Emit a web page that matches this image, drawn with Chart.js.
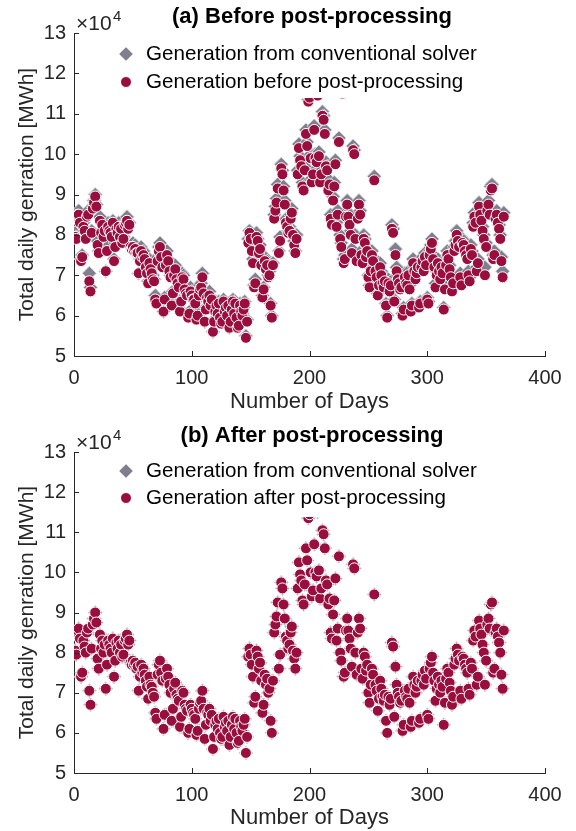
<!DOCTYPE html>
<html>
<head>
<meta charset="utf-8">
<script src="https://cdn.jsdelivr.net/npm/chart.js@4.4.1/dist/chart.umd.min.js"></script>
<style>
  html, body { margin: 0; padding: 0; background: #fff; }
  #wrap { position: relative; width: 576px; height: 831px; }
  canvas { position: absolute; left: 0; }
</style>
</head>
<body>
<div id="wrap">
  <canvas id="chartA" width="576" height="415" style="top:0"></canvas>
  <canvas id="chartB" width="576" height="416" style="top:415px"></canvas>
</div>
<script>
// daily generation, x10^4 MWh, one row per week
const conventional = [
  8.05, 7.95, 8.55, 8.6, 8.35, 7.4, 7.5,
  8.3, 8.15, 8.0, 8.5, 8.6, 7.05, 6.7,
  8.1, 8.7, 8.85, 9.0, 8.75, 7.85, 7.6,
  8.45, 8.1, 8.3, 8.0, 8.2, 7.1, 7.7,
  8.3, 8.2, 8.1, 8.0, 8.35, 7.4, 7.8,
  8.25, 8.1, 8.3, 8.0, 8.2, 7.9, 7.95,
  8.3, 8.35, 8.45, 8.2, 8.3, 7.75, 7.7,
  7.8, 7.7, 7.75, 7.6, 7.65, 7.05, 7.4,
  7.7, 7.5, 7.6, 7.45, 7.3, 7.15, 6.85,
  7.4, 7.2, 7.15, 7.0, 6.9, 6.5, 6.35,
  7.45, 7.7, 7.8, 7.5, 7.3, 6.1, 6.45,
  7.35, 7.6, 7.4, 7.2, 7.0, 6.3, 6.6,
  7.1, 7.25, 6.95, 6.85, 6.8, 6.15, 6.4,
  7.05, 7.0, 6.7, 6.6, 6.55, 6.0, 6.1,
  6.7, 6.6, 6.5, 6.45, 6.35, 5.95, 6.05,
  6.6, 6.75, 6.8, 7.05, 6.6, 5.85, 6.2,
  6.5, 6.45, 6.6, 6.3, 6.45, 5.6, 5.9,
  6.2, 6.3, 6.1, 6.35, 6.0, 5.85, 5.9,
  6.4, 6.15, 6.25, 6.05, 6.3, 5.7, 5.9,
  6.2, 6.4, 6.1, 6.35, 6.0, 5.75, 5.8,
  6.3, 6.15, 6.05, 6.2, 6.35, 5.5, 5.9,
  7.9, 8.1, 7.95, 7.7, 7.4, 6.75, 6.9,
  8.05, 7.9, 7.6, 7.75, 7.3, 6.5, 6.7,
  7.45, 7.2, 7.35, 7.0, 7.1, 6.3, 6.0,
  7.3, 8.5, 8.7, 8.9, 9.25, 7.6, 7.95,
  9.75, 9.6, 9.2, 8.85, 8.4, 8.3, 8.1,
  8.2, 8.5, 8.65, 8.05, 7.85, 7.6, 8.0,
  9.6, 10.25, 9.95, 9.8, 9.3, 9.2, 9.7,
  10.6, 10.3, 11.35, 11.45, 10.0, 9.4, 9.55,
  10.7, 10.0, 9.9, 11.5, 10.05, 9.35, 9.6,
  11.05, 10.95, 10.6, 9.8, 9.7, 9.2, 9.35,
  8.5, 8.35, 8.95, 9.3, 9.85, 8.3, 8.6,
  10.4, 8.0, 7.8, 11.6, 7.4, 7.5, 8.55,
  8.85, 8.55, 8.35, 8.1, 7.65, 10.2, 10.1,
  8.0, 7.45, 8.5, 8.85, 8.6, 7.6, 7.35,
  8.0, 7.9, 7.55, 7.7, 7.0, 6.75, 7.2,
  7.6, 7.45, 9.45, 7.2, 7.05, 6.55, 6.85,
  7.3, 7.1, 6.9, 6.8, 6.95, 6.3, 6.0,
  6.9, 6.7, 6.85, 8.25, 8.15, 6.4, 7.65,
  7.2, 7.0, 6.9, 6.75, 6.8, 6.05, 6.2,
  7.05, 6.9, 6.85, 7.1, 6.75, 6.15, 6.3,
  7.4, 7.2, 7.0, 7.15, 7.3, 6.25, 6.35,
  7.3, 7.45, 7.2, 7.55, 7.35, 6.45, 6.35,
  7.6, 7.75, 7.9, 7.5, 7.3, 6.8, 7.1,
  7.4, 7.2, 7.0, 7.3, 7.15, 6.2, 6.75,
  7.35, 7.6, 7.5, 7.25, 7.05, 6.7, 6.9,
  7.7, 7.85, 8.1, 7.95, 7.8, 7.05, 6.85,
  7.9, 7.85, 7.7, 7.6, 7.5, 7.1, 6.95,
  7.75, 7.6, 8.3, 8.55, 8.4, 7.2, 7.4,
  8.8, 8.6, 8.45, 8.2, 8.0, 7.2, 7.8,
  8.7, 8.85, 8.6, 9.2, 9.25, 7.5, 7.6,
  8.5, 8.6, 8.4, 8.25, 8.0, 7.45, 7.1,
  8.55
];

const beforePost = [
  7.95, 7.9, 8.5, 8.5, 8.3, 7.35, 7.45,
  8.2, 8.1, 7.9, 8.45, 8.5, 6.85, 6.6,
  8.05, 8.65, 8.8, 8.95, 8.7, 7.75, 7.55,
  8.35, 8.05, 8.25, 7.95, 8.1, 7.1, 7.6,
  8.2, 8.1, 8.05, 7.95, 8.3, 7.35, 7.7,
  8.15, 8.05, 8.2, 7.95, 8.15, 7.8, 7.9,
  8.25, 8.3, 8.35, 8.15, 8.25, 7.7, 7.65,
  7.7, 7.6, 7.65, 7.55, 7.55, 7.05, 7.35,
  7.6, 7.45, 7.5, 7.4, 7.2, 7.05, 6.8,
  7.3, 7.15, 7.05, 6.9, 6.85, 6.4, 6.3,
  7.35, 7.6, 7.7, 7.45, 7.2, 6.1, 6.4,
  7.25, 7.5, 7.35, 7.1, 6.95, 6.25, 6.55,
  7.0, 7.15, 6.9, 6.8, 6.7, 6.1, 6.35,
  6.95, 6.9, 6.65, 6.55, 6.5, 5.95, 6.05,
  6.6, 6.5, 6.4, 6.4, 6.3, 5.9, 6.0,
  6.5, 6.65, 6.7, 6.95, 6.55, 5.85, 6.15,
  6.45, 6.35, 6.5, 6.25, 6.4, 5.6, 5.85,
  6.1, 6.25, 6.05, 6.3, 5.95, 5.8, 5.85,
  6.35, 6.1, 6.2, 6.0, 6.25, 5.7, 5.85,
  6.15, 6.35, 6.05, 6.3, 5.95, 5.7, 5.75,
  6.25, 6.1, 6.0, 6.15, 6.3, 5.45, 5.85,
  7.8, 8.05, 7.9, 7.6, 7.3, 6.7, 6.8,
  7.95, 7.85, 7.55, 7.65, 7.25, 6.45, 6.65,
  7.35, 7.15, 7.25, 6.95, 7.0, 6.25, 5.95,
  7.25, 8.4, 8.6, 8.8, 9.15, 7.55, 7.85,
  9.65, 9.5, 9.1, 8.75, 8.3, 8.2, 8.05,
  8.1, 8.4, 8.55, 8.0, 7.75, 7.55, 7.9,
  9.5, 10.15, 9.85, 9.7, 9.2, 9.1, 9.6,
  10.5, 10.2, 11.3, 11.4, 9.9, 9.3, 9.5,
  10.6, 9.9, 9.8, 11.45, 9.95, 9.3, 9.5,
  10.95, 10.85, 10.5, 9.7, 9.6, 9.1, 9.25,
  8.4, 8.25, 8.85, 9.2, 9.75, 8.2, 8.5,
  10.3, 7.9, 7.7, 11.5, 7.3, 7.4, 8.45,
  8.75, 8.45, 8.25, 8.0, 7.55, 10.1, 10.0,
  7.9, 7.35, 8.4, 8.75, 8.5, 7.5, 7.3,
  7.9, 7.8, 7.45, 7.6, 6.95, 6.7, 7.1,
  7.5, 7.35, 9.35, 7.1, 6.95, 6.5, 6.75,
  7.2, 7.0, 6.8, 6.7, 6.85, 6.25, 5.95,
  6.8, 6.6, 6.75, 8.15, 8.05, 6.35, 7.5,
  7.1, 6.9, 6.8, 6.65, 6.7, 6.0, 6.15,
  6.95, 6.8, 6.75, 7.0, 6.65, 6.1, 6.25,
  7.3, 7.1, 6.9, 7.05, 7.2, 6.2, 6.3,
  7.2, 7.35, 7.1, 7.45, 7.25, 6.4, 6.3,
  7.5, 7.65, 7.8, 7.4, 7.2, 6.7, 7.0,
  7.3, 7.1, 6.9, 7.2, 7.05, 6.15, 6.65,
  7.25, 7.5, 7.4, 7.15, 6.95, 6.6, 6.8,
  7.6, 7.75, 8.0, 7.85, 7.7, 6.95, 6.75,
  7.8, 7.75, 7.6, 7.5, 7.4, 7.0, 6.85,
  7.65, 7.5, 8.2, 8.45, 8.3, 7.1, 7.3,
  8.7, 8.5, 8.35, 8.1, 7.9, 7.0, 7.7,
  8.6, 8.75, 8.5, 9.1, 9.15, 7.4, 7.5,
  8.4, 8.5, 8.3, 8.15, 7.9, 7.35, 6.95,
  8.45
];

// after post-processing the circles sit exactly on the solver diamonds
const afterPost = conventional;

const xTicks = [0, 100, 200, 300, 400];
const yTicks = [5, 6, 7, 8, 9, 10, 11, 12, 13];

const FONT = "'Liberation Sans', Arial, sans-serif";
const TXT = '#262626';
const RED = '#9a0e3e';
const GREY = '#7f7f8e';

function points(vals) {
  return vals.map((v, i) => ({ x: i + 1, y: v }));
}

// title, x10^4 note, legend on a white box, inward ticks
const decor = {
  id: 'decor',
  afterDatasetsDraw(chart, args, opts) {
    const ctx = chart.ctx;
    const area = chart.chartArea;
    const xs = chart.scales.x, ys = chart.scales.y;
    ctx.save();

    // legend background hides the points that run under it
    ctx.fillStyle = '#fff';
    ctx.fillRect(100, area.top + 4, 420, 61);

    const ly1 = area.top + opts.ly[0], ly2 = area.top + opts.ly[1];
    ctx.fillStyle = GREY;
    ctx.strokeStyle = '#d4d4dc';
    ctx.lineWidth = 1;
    Chart.helpers.drawPoint(ctx, { pointStyle: 'rectRot', radius: 7, borderWidth: 1 }, 126, ly1);
    ctx.fillStyle = RED;
    ctx.strokeStyle = '#fff';
    Chart.helpers.drawPoint(ctx, { pointStyle: 'circle', radius: 5.5, borderWidth: 1 }, 126, ly2);

    ctx.fillStyle = '#000';
    ctx.font = '20.6px ' + FONT;
    ctx.textBaseline = 'middle';
    ctx.textAlign = 'left';
    ctx.fillText(opts.labels[0], 146, ly1);
    ctx.fillText(opts.labels[1], 146, ly2);

    ctx.font = 'bold 22px ' + FONT;
    ctx.textAlign = 'center';
    ctx.fillText(opts.title, 312, area.top - 16);

    ctx.fillStyle = TXT;
    ctx.textAlign = 'left';
    ctx.textBaseline = 'alphabetic';
    ctx.font = '21px ' + FONT;
    ctx.fillText('\u00d710', 76, area.top - 3);
    ctx.font = '15px ' + FONT;
    ctx.fillText('4', 113, area.top - 12);

    ctx.strokeStyle = TXT;
    ctx.lineWidth = 1;
    ctx.beginPath();
    yTicks.forEach(t => {
      const py = Math.round(ys.getPixelForValue(t)) + 0.5;
      ctx.moveTo(area.left, py);
      ctx.lineTo(area.left + 5, py);
    });
    xTicks.forEach(t => {
      const px = Math.round(xs.getPixelForValue(t)) + 0.5;
      ctx.moveTo(px, area.bottom);
      ctx.lineTo(px, area.bottom - 5);
    });
    ctx.stroke();
    ctx.restore();
  }
};

function makeChart(id, circles, circleLabel, title, top, xHeight, ly) {
  return new Chart(document.getElementById(id), {
    type: 'scatter',
    data: {
      datasets: [
        {
          label: circleLabel,
          data: points(circles),
          pointStyle: 'circle',
          pointRadius: 5.5,
          backgroundColor: RED,
          borderColor: '#ffffff',
          borderWidth: 1,
          order: 0
        },
        {
          label: 'Generation from conventional solver',
          data: points(conventional),
          pointStyle: 'rectRot',
          pointRadius: 7,
          backgroundColor: GREY,
          borderColor: '#d4d4dc',
          borderWidth: 1,
          order: 1
        }
      ]
    },
    options: {
      responsive: false,
      animation: false,
      layout: { padding: { top: top, right: 31, left: 0, bottom: 0 } },
      plugins: {
        legend: { display: false },
        tooltip: { enabled: false },
        decor: { title: title, ly: ly, labels: ['Generation from conventional solver', circleLabel] }
      },
      scales: {
        x: {
          type: 'linear',
          min: 0, max: 400,
          afterBuildTicks: s => { s.ticks = xTicks.map(v => ({ value: v })); },
          afterFit: s => { s.height = xHeight; },
          grid: { display: false, drawTicks: false },
          border: { display: true, color: TXT, width: 1 },
          ticks: { color: TXT, font: { family: FONT, size: 20 }, padding: 10 },
          title: { display: true, text: 'Number of Days', color: TXT, font: { family: FONT, size: 22 }, padding: { top: 0, bottom: 0 } }
        },
        y: {
          min: 5, max: 13,
          afterBuildTicks: s => { s.ticks = yTicks.map(v => ({ value: v })); },
          afterFit: s => { s.width = 74; },
          grid: { display: false, drawTicks: false },
          border: { display: true, color: TXT, width: 1 },
          ticks: { color: TXT, font: { family: FONT, size: 20 }, padding: 8 },
          title: { display: true, text: 'Total daily genration [MWh]', color: TXT, font: { family: FONT, size: 21 }, padding: { top: 15, bottom: 0 } }
        }
      }
    },
    plugins: [decor]
  });
}

makeChart('chartA', beforePost, 'Generation before post-processing', '(a) Before post-processing', 33, 59, [21, 49]);
makeChart('chartB', afterPost, 'Generation after post-processing', '(b) After post-processing', 37, 58, [19, 46]);
</script>
</body>
</html>
